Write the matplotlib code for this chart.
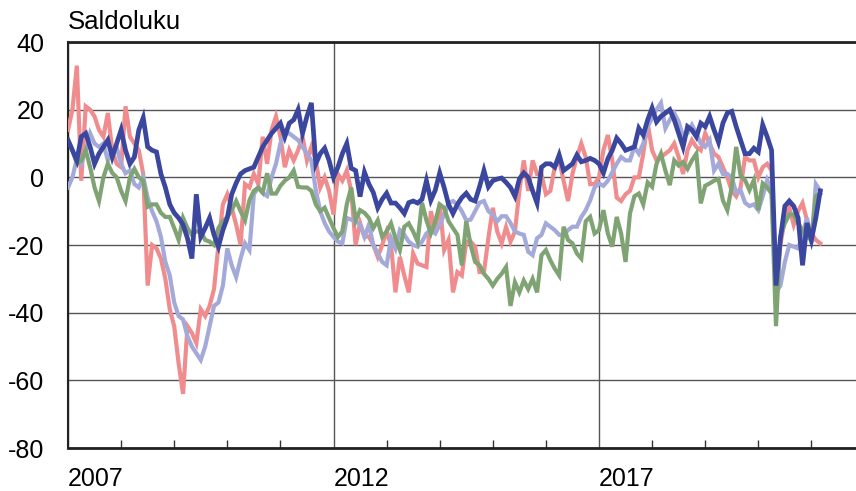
import numpy as np
import matplotlib
matplotlib.use('Agg')
from matplotlib import pyplot as plt
from matplotlib.ticker import FixedLocator

plt.rcParams['font.family'] = ['Liberation Sans', 'DejaVu Sans']

# kuukausittaiset saldoluvut 1/2007 - 3/2021
start_year = 2007

pink = [14, 20, 33, -1, 21, 20, 18, 14, 12, 19, 8, 4,
        3, 21, 12, 10, 8, 1, -32, -20, -21, -24, -30, -39,
        -44, -55, -64, -44, -46, -49, -39, -41, -38, -33, -20, -8,
        -5, -9, -14, -20, -2, -3, 1, -2, 12, 4, 14, 18,
        12, 3, 8, 5, 8, 12, 5, 9, 5, -3, 0, -4,
        -11, 1, -1, 2, -4, -20, -13.5, -17.5, -17.5, -20, -23.5, -20,
        -16, -20, -34, -23.5, -29, -34, -22.5, -25.5, -26, -26.5, -10, -15.5,
        -7.6, -21.5, -18.5, -34, -28, -29, -19, -19, -20.5, -28, -28, -18,
        -9, -16, -19.5, -14.7, -19, -16, -4, 5, -4, 5, 1, 1,
        -5, -4, 3, 5, -1, -7, 1, 6, 10, 6, -2, -2,
        0, 8, 12.5, 5, -6, -7, -5, -4, 0, 0, 7, 16,
        8, 5, 6, 7, 8, 10, 6, 1, 8, 11, 9, 8,
        13, 10, 7, 6, 3, 0, -4, -5.6, -3, 6, 5, 5,
        0, 3, 4, 2, -31, -20, -12, -9, -14, -10, -7.6, -12.7,
        -16.5, -18.5, -19.5]

lavender = [-3, 0, 5.5, 4, 8, 13, 10, 9, 10, 5, 8, 9,
            4, 1.2, 2, -2, -3, 0, -6, -10, -13, -17.6, -25, -29,
            -37, -41, -42, -47, -50, -52, -54, -50, -44, -38, -37, -32,
            -21, -26, -29.5, -24, -19.5, -21.5, -5, -3, -4.7, -5.5, 0, 4,
            10, 13, 13, 12, 11, 9, 7, 5, -3.8, -10, -13.5, -16,
            -17.6, -19, -19.5, -12, -12.5, -13, -14, -17.6, -14, -20, -22.5, -25,
            -26, -18, -21, -15.6, -17, -19, -20, -20.5, -19, -16.6, -15.6, -16.6,
            -14, -11, -7.6, -7, -8, -10, -12.7, -12.5, -10, -7.5, -7, -10,
            -11, -13, -11.5, -11.5, -13.5, -16, -16.6, -17, -22, -23, -18, -17,
            -13.6, -14.6, -15.6, -17, -17, -15.6, -14.6, -14.6, -11.7, -9.7, -6.8, -3,
            -1.8, -2.5, -1, 1.5, 4, 6, 5, 5, 9, 7, 10, 15,
            17.5, 20, 22, 14.5, 17, 19, 16.5, 12, 13, 15.5, 13, 10,
            9, 11, 2, 4, 1, 1, 0, -4.5, -3.8, -7.5, -8.5, -8,
            -9.7, -5.6, -0.8, -3.8, -34, -32, -25, -20, -20.5, -21, -17, -12,
            -19.5, -2, -4]

green = [11, 8, 4, 5, 8, 3, -3, -7, 0, 4, 1.3, 0,
         -4, -7, 0, 2.5, 0, -1, -8.7, -8, -8, -10.5, -11.7, -11.7,
         -15, -18.5, -12, -15, -17, -16, -16, -18.5, -19, -20, -15, -13,
         -11.7, -9.7, -7, -10, -12.7, -6.8, -4, -3, -4.5, 1.2, -4.8, -4.8,
         -2.5, -1, 0, 2, -2.8, -3, -3, -4, -8, -10, -9, -12,
         -15, -17.6, -16, -8, -3, -12.7, -9.7, -10.5, -12, -15, -12.7, -17.6,
         -16, -13.6, -18, -21.5, -14.6, -13.6, -16, -19, -7.5, -12.7, -16.6, -13,
         -8, -9, -13, -15, -17, -26, -13, -20, -25, -26, -28.5, -30,
         -32, -30, -28.5, -26.5, -38, -31, -34, -30.5, -33, -30, -34, -23,
         -21.5, -24.5, -27, -29, -14.6, -18.5, -19.5, -22.5, -24, -13, -11.7, -16.6,
         -15.6, -9.7, -16.6, -20.5, -11.7, -16.6, -25, -10.7, -5.6, -4.8, -8, -1.5,
         -2.8, 4, 7, 2, -2.3, 5, 3.5, 4.5, 2.5, 5, 7, -7.7,
         -2.5, -1.8, -1, -0.5, -6.8, -9.7, -2.8, 9, 0.5, -0.8, -3.8, -0.8,
         -9.7, -1.8, -3, -4.8, -44, -17.5, -13.6, -11, -11, -13.6, -15.6, -17.6,
         -18.5, -5.6, -4.8]

navy = [11, 8, 5, 12, 13, 9, 4, 7, 9, 11, 6, 10,
        14, 8, 4, 6, 14, 17.6, 9, 8, 7.5, 1, -3, -8,
        -10.5, -12, -14, -18, -24, -5, -17.6, -15, -12, -17, -20.5, -15.6,
        -12, -5, -1.7, 1, 2, 2.5, 3, 6, 9, 11, 13, 14.5,
        16, 12, 16, 17, 20, 13, 18, 22, 4, 7, 8.6, 5,
        0, 3, 7, 10, 2.7, 2, -5.7, 1.5, -2, -4.5, -9, -6.5,
        -4.7, -7.6, -7.6, -9, -10.7, -7.5, -7, -7.6, -6.5, -1, -6.8, -3.8,
        1.3, -3, -8, -10.7, -8, -6, -4.7, -6.5, -7, -2.8, 2, -2.8,
        -1, -0.5, -0.2, -1.5, -3, -5.6, -0.5, 1.3, 0, -4, -7.6, 3,
        4, 4, 3, 6.6, 2, 3, 4, 6.6, 4.6, 5, 5.6, 5,
        4, 1.3, 5.5, 8, 11.6, 10, 8, 8.5, 9, 14.5, 12.5, 17,
        20.5, 16.4, 18, 19, 20, 17, 13, 9, 15, 14, 12, 16,
        15, 18, 14, 10.4, 16, 19, 19.5, 15, 11, 7, 7, 8.6,
        7.5, 15.5, 12, 8, -32, -18, -8.5, -7, -8.5, -12, -26, -13.5,
        -18.5, -12, -4]

series = [pink, lavender, green, navy]
colors = ['#f08c8e', '#a3aad9', '#7fa372', '#3b469f']
widths = [3.0, 3.0, 3.0, 3.4]

y_ticks = [-80, -60, -40, -20, 0, 20, 40]
x_tick_years = [2007, 2012, 2017]

fig = plt.figure(figsize=(8.56, 4.91), dpi=100)
ax = fig.add_axes([68 / 856, 43 / 491, 788 / 856, 406 / 491])

for vals, c, lw in zip(series, colors, widths):
    x = start_year + np.arange(len(vals)) / 12
    ax.plot(x, vals, color=c, lw=lw, solid_joinstyle='miter', zorder=3)

ax.set_ylim(-80, 40)
ax.set_xlim(2007, 2007 + 788 / 53.1)

ax.set_yticks(y_ticks)
ax.set_yticklabels([str(v) for v in y_ticks])
ax.set_xticks(x_tick_years)
ax.set_xticklabels([str(v) for v in x_tick_years], ha='left')
ax.xaxis.set_minor_locator(FixedLocator(range(2008, 2022)))

ax.tick_params(axis='y', length=0, pad=17, labelsize=18)
ax.tick_params(axis='x', which='major', length=0, pad=14, labelsize=18)
ax.tick_params(axis='x', which='minor', direction='in', length=6, width=1, color='#333333')

ax.grid(True, which='major', color='#555555', lw=1.0, zorder=1)

for s in ['left', 'bottom', 'top']:
    ax.spines[s].set_color('#222222')
ax.spines['left'].set_linewidth(1.5)
ax.spines['bottom'].set_linewidth(2.0)
ax.spines['top'].set_linewidth(2.0)
ax.spines['right'].set_visible(False)

fig.text(68 / 856, 1 - 22 / 491, 'Saldoluku', fontsize=18.5, va='center', ha='left')

plt.savefig('out.png', dpi=100)
